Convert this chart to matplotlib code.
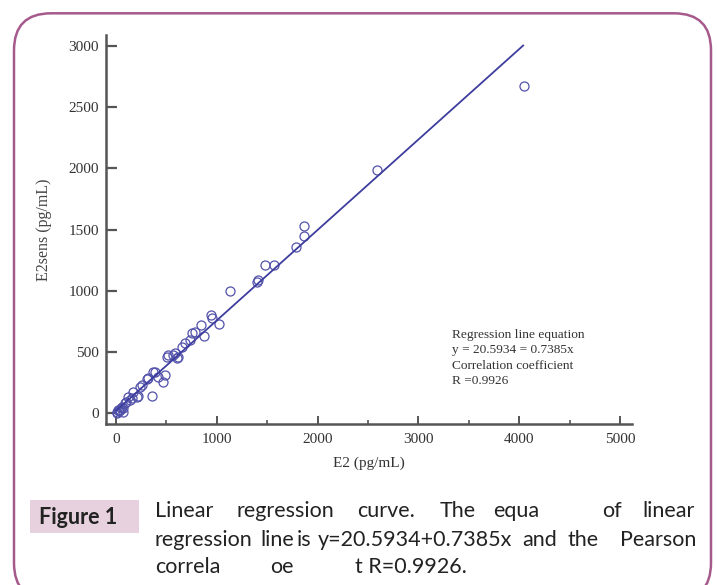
import numpy as np
import matplotlib
matplotlib.use('Agg')
import matplotlib.pyplot as plt
from matplotlib.patches import FancyBboxPatch, Rectangle


# -------- Data ------------------

# E2 (pg/mL) vs E2sens (pg/mL)
e2 = [5, 12, 18, 25, 30, 40, 50, 56, 65, 72,
      89, 100, 120, 139, 156, 165, 205, 221, 238, 255,
      304, 321, 354, 370, 387, 420, 469, 486, 503, 519,
      569, 585, 602, 618, 652, 684, 734, 757, 784, 843,
      876, 942, 949, 1022, 1131, 1395, 1410, 1478, 1567, 1782,
      1865, 1868, 2592, 4050]
e2sens = [2, 10, 25, 15, 30, 27, 40, 54, 45, 13,
          82, 95, 135, 109, 122, 176, 136, 141, 217, 231,
          277, 286, 141, 340, 340, 299, 258, 313, 462, 476,
          476, 490, 449, 462, 544, 571, 598, 653, 666, 721,
          631, 803, 775, 729, 995, 1075, 1092, 1211, 1211, 1360,
          1447, 1529, 1986, 2674]

# regression line
intercept = 20.5934
slope = 0.7385
fit_range = [0, 4040]

x_ticks = [0, 1000, 2000, 3000, 4000, 5000]
y_ticks = [0, 500, 1000, 1500, 2000, 2500, 3000]

note_lines = ['Regression line equation',
              'y = 20.5934 = 0.7385x',
              'Correlation coefficient',
              'R =0.9926']

caption_lines = [
    ['Linear', 'regression', 'curve.', 'The', 'equa', 'of', 'linear'],
    ['regression', 'line', 'is', 'y=20.5934+0.7385x', 'and', 'the', 'Pearson'],
    ['correla', 'oe', 't R=0.9926.'],
]
caption_xpos = [
    [155, 237, 357, 440, 493, 602, 642],
    [155, 260, 297, 318, 522, 568, 620],
    [155, 270, 355],
]


# -------- Plot ------------------

W, H = 717, 585
fig = plt.figure(figsize=(W/100, H/100), dpi=100)

# outer rounded frame (inches)
frame = FancyBboxPatch((0.14, -0.15), 7.11 - 0.14, 5.717 + 0.15,
                       boxstyle='round,pad=0,rounding_size=0.37',
                       transform=fig.dpi_scale_trans, fill=False,
                       edgecolor='#a65a8c', linewidth=1.8, clip_on=False)
fig.patches.append(frame)

ax = fig.add_axes([106/W, (H-424.3)/H, 526/W, (424.3-35)/H])

x = np.array(e2)
y = np.array(e2sens)
ax.plot(x, y, 'o', mfc='none', mec='#5252aa', ms=6.5, mew=0.9)
xf = np.array(fit_range)
ax.plot(xf, intercept + slope*xf, color='#3d3d9e', lw=1.3)

ax.set_xlim(-100, 5120)
ax.set_ylim(-90, 3090)
ax.set_xticks(x_ticks)
ax.set_xticks([500, 1500, 2500, 3500, 4500], minor=True)
ax.set_yticks(y_ticks)

for s in ['top', 'right']:
    ax.spines[s].set_visible(False)
for s in ['left', 'bottom']:
    ax.spines[s].set_color('#555555')
    ax.spines[s].set_linewidth(1.8)

serif = 'Liberation Serif'
ax.tick_params(axis='y', direction='in', length=8, width=1.6, color='#555555',
               labelsize=11, labelcolor='#333333', pad=5)
ax.tick_params(axis='x', which='major', direction='in', length=6, width=1.4,
               color='#555555', labelsize=11, labelcolor='#333333', pad=6)
ax.tick_params(axis='x', which='minor', direction='in', length=3, width=1.2,
               color='#555555')
for lab in ax.get_xticklabels() + ax.get_yticklabels():
    lab.set_family(serif)

ax.set_xlabel('E2 (pg/mL)', family=serif, fontsize=11, color='#333333', labelpad=8)
ax.set_ylabel('E2sens (pg/mL)', family=serif, fontsize=11.5, color='#444444', labelpad=12)

for i, t in enumerate(note_lines):
    fig.text(452/W, 1 - (335 + 15.5*i)/H, t, family=serif, fontsize=9.6,
             color='#333333', va='center', ha='left')

# caption
fig.patches.append(Rectangle((30/W, 1 - 533/H), 109/W, 33/H,
                             transform=fig.transFigure, facecolor='#e8d1de',
                             edgecolor='none'))
fig.text(78/W, 1 - 517/H, 'Figure 1', family='Lato', weight='bold',
         fontsize=15.5, color='#222222', ha='center', va='center')

line_y = [511, 540, 567]
for words, xs, yy in zip(caption_lines, caption_xpos, line_y):
    for w, xx in zip(words, xs):
        fig.text(xx/W, 1 - yy/H, w, family='Lato', fontsize=15.5,
                 color='#222222', ha='left', va='center')

plt.savefig('out.png', dpi=100)
